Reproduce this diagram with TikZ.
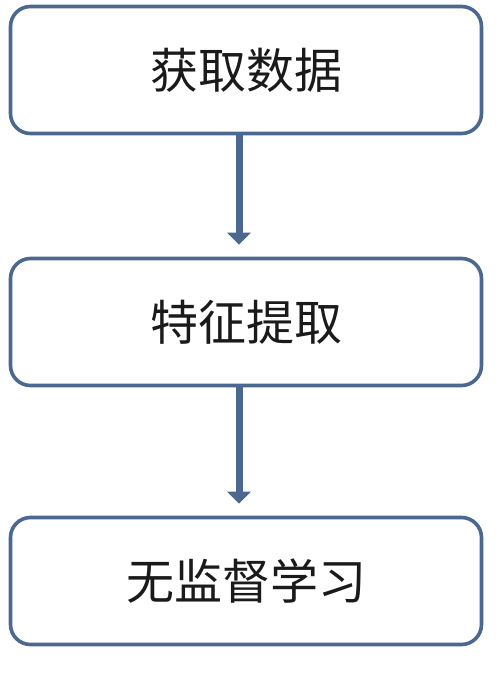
\documentclass[tikz,border=0pt]{standalone}
\usepackage{fontspec}
\newfontfamily\cjk{Noto Sans CJK SC}
\usetikzlibrary{arrows.meta,positioning}
\definecolor{flowedge}{HTML}{4A6890}
\definecolor{flowtext}{HTML}{1A1A1A}

\begin{document}
\begin{tikzpicture}[x=1pt,y=1pt,line join=round,
  font=\cjk\fontsize{48}{54}\selectfont,text=flowtext,
  stage/.style={draw=flowedge,line width=3.6pt,rounded corners=20pt,fill=white,
    minimum width=471pt,minimum height=127pt,inner sep=0pt},
  link/.style={draw=flowedge,line width=7pt,-{Triangle[width=23pt,length=12pt]},shorten >=12pt}]
\path[use as bounding box] (0,0) rectangle (502,-698);
\fill[white] (0,0) rectangle (502,-698);
% 三个步骤
\node[stage] (fetch) at (246,-70) {获取数据};
\node[stage] (feat) at (246,-322) {特征提取};
\node[stage] (learn) at (246,-581) {无监督学习};
% 箭头
\draw[link] (fetch.south -| 239,0) -- (feat.north -| 239,0);
\draw[link] (feat.south -| 239,0) -- (learn.north -| 239,0);
\end{tikzpicture}
\end{document}
